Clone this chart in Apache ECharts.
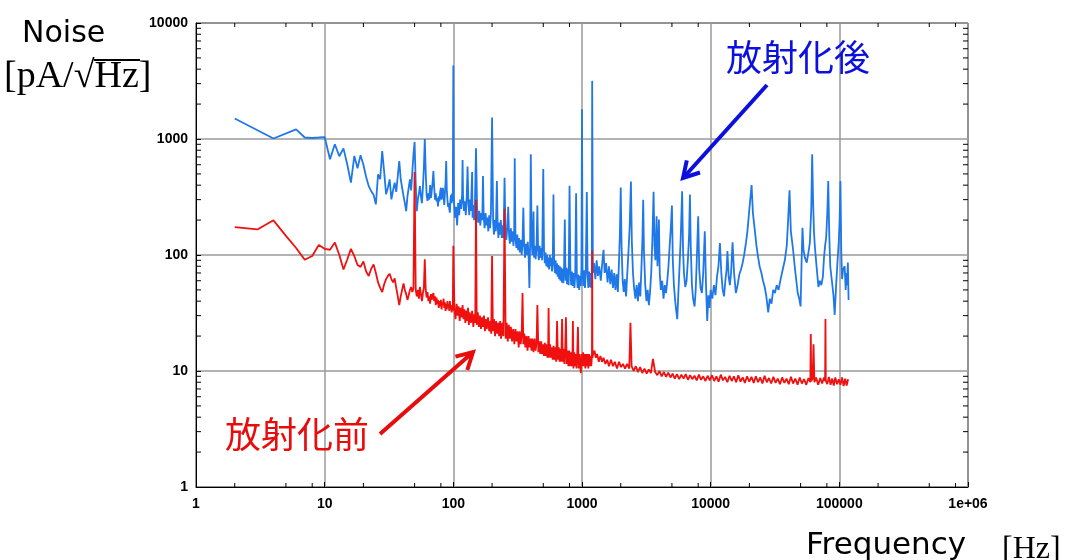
<!DOCTYPE html>
<html>
<head>
<meta charset="utf-8">
<script src="https://cdn.jsdelivr.net/npm/echarts@6/dist/echarts.min.js"></script>
<style>html,body{margin:0;padding:0;background:#fff;}#c{width:1069px;height:560px;}</style>
</head>
<body>
<div id="c"></div>
<script>
// Axis tick labels
const xTickLabels = ['1','10','100','1000','10000','100000','1e+06'];
const yTickLabels = ['1','10','100','1000','10000'];

// After activation (blue) noise spectrum: [frequency Hz, noise pA/sqrt(Hz)]
const afterActivation = [
[2,1500],[4,1010],[6,1210],[7,1030],[8,1020],[9,1030],[10,1040],[11,668],[12,900],[13,710],[14,830],[15,600],[16,421],[17,714],[18,560],[19,724],[20,600],[21,470],[22,393],[23,355],[24,330],[25,273],[26,496],[27,450],[28,788],[29,520],[30,334],[31,380],[32,449],[33,302],[34,360],[35,420],[36,350],[37,480],[38,645],[39,450],[40,380],[41,322],[42,280],[43,239],[44,320],[45,380],[46,449],[47,360],[48,520],[49,738],[50,944],[51,420],[52,239],[53,300],[54,340],[55,393],[56,320],[57,280],[58,380],[59,560],[60,1000],[61,520],[62,330],[63,293],[64,340],[65,300],[66,400],[67,310],[68,360],[69,420],[70,530],[71,380],[72,300],[73,340],[74,290],[75,310],[76,262],[77,320],[78,290],[79,350],[80,380],[81,300],[82,330],[83,380],[84,320],[85,270],[86,340],[87,420],[88,645],[89,360],[90,300],[91,260],[92,280],[93,250],[94,232],[95,300],[96,330],[97,280],[98,340],[99,290],
[100,4300],[101,300],[103,210],[105,260],[107,180],[109,280],[111,220],[113,300],[115,250],[117,330],[118,660],[119,320],[121,240],[123,290],[125,220],[127,310],[129,580],[131,280],[133,220],[135,300],[137,240],[140,520],[141,210],[143,270],[145,200],[147,260],[150,830],[153,250],[156,190],[159,240],[162,180],[165,230],[168,200],[170,480],[172,220],[175,170],[178,230],[181,180],[184,210],[187,160],[190,220],[193,170],[196,230],[200,1530],[204,190],[207,150],[210,200],[214,160],[218,434],[221,180],[224,140],[227,190],[231,150],[234,200],[238,140],[242,180],[246,140],[250,464],[254,170],[258,135],[263,175],[267,260],[271,150],[275,125],[280,170],[284,130],[289,160],[293,120],[297,150],[300,683],[304,140],[309,115],[314,150],[319,110],[324,140],[329,105],[334,135],[340,100],[345,130],[350,256],[355,120],[361,95],[367,125],[373,100],[379,130],[385,95],[390,52],[395,120],[400,738],[406,130],[412,100],[420,237],[424,95],[430,120],[436,92],[443,115],[450,267],[456,110],[462,90],[469,120],[476,95],[483,115],[490,90],[500,550],[507,110],[514,85],[521,105],[528,80],[535,100],[542,78],[549,95],[556,75],[563,100],[570,80],[577,95],[585,72],[593,90],[600,333],[608,85],[616,70],[624,90],[632,68],[640,85],[648,65],[656,82],[664,62],[672,80],[680,60],[689,78],[698,58],[707,76],[716,57],[725,75],[735,202],[745,60],[755,78],[765,56],[775,76],[787,55],[800,395],[812,74],[824,55],[836,72],[848,54],[860,70],[873,52],[886,68],[900,340],[912,66],[925,52],[938,68],[951,50],[965,66],[980,54],[990,78],[1000,1807],[1010,70],[1025,54],[1040,74],[1055,52],[1070,72],[1090,350],[1105,68],[1120,52],[1135,72],[1150,53],[1165,70],[1180,52],[1192,75],
[1200,3170],[1215,70],[1240,85],[1270,62],[1300,90],[1330,66],[1360,80],[1400,60],[1440,88],[1470,111],[1500,70],[1540,85],[1580,58],[1620,80],[1660,56],[1700,75],[1740,52],[1780,70],[1820,50],[1860,68],[1900,48],[1940,90],[1970,150],[2000,381],[2030,120],[2070,60],[2110,48],[2150,62],[2200,44],[2250,70],[2300,110],[2350,180],[2400,430],[2440,130],[2490,70],[2540,52],[2600,42],[2660,55],[2720,40],[2780,58],[2840,44],[2900,80],[2950,140],[2990,300],[3030,110],[3100,55],[3170,40],[3240,50],[3310,37],[3380,48],[3450,70],[3520,130],[3600,350],[3660,120],[3720,90],[3800,216],[3860,80],[3920,110],[3960,202],[4020,70],[4100,50],[4200,60],[4300,42],[4400,55],[4500,47],[4600,60],[4700,80],[4800,120],[4900,170],[5000,267],[5080,90],[5180,55],[5300,40],[5400,33],[5500,28],[5600,45],[5700,70],[5850,140],[6000,355],[6100,110],[6200,70],[6350,53],[6500,60],[6650,90],[6800,150],[6900,333],[7000,120],[7150,55],[7300,42],[7500,36],[7650,50],[7800,90],[8000,216],[8150,75],[8350,52],[8550,47],[8750,70],[9000,160],[9200,55],[9400,27],[9600,45],[9800,35],[10000,50],[10300,42],[10600,55],[10900,45],[11200,65],[11500,80],[11800,127],[12100,70],[12400,50],[12700,44],[13000,60],[13300,75],[13500,108],[13800,65],[14100,55],[14400,70],[14800,129],[15200,70],[15700,47],[16200,55],[16700,68],[17200,75],[17700,85],[18200,100],[18800,127],[19300,160],[19800,220],[20300,300],[20800,401],[21300,230],[22000,166],[22700,120],[23400,95],[24000,80],[24800,70],[25500,60],[26300,53],[27000,45],[28000,32],[28800,42],[29700,38],[30600,50],[31600,47],[32600,55],[33700,50],[35000,62],[36300,75],[37700,90],[39000,119],[40000,200],[41000,361],[42000,160],[43700,111],[45000,80],[46300,60],[47500,47],[48800,42],[50000,36],[50800,80],[51700,172],[52700,110],[54000,95],[55800,86],[57500,105],[59000,127],[60500,250],[61500,738],[62500,300],[63500,160],[64500,119],[66500,80],[68800,53],[70500,60],[72500,55],[74500,65],[76000,95],[77500,120],[79000,141],[80500,220],[82000,434],[83500,150],[85000,80],[87500,60],[90000,45],[92000,30.5],[94000,50],[96000,75],[97000,92],[99000,130],[100500,200],[102000,434],[103500,110],[105000,62],[107000,75],[110000,80],[112000,50],[114000,70],[115000,55],[116500,86],[118000,41]
];

// Before activation (red) noise spectrum: [frequency Hz, noise pA/sqrt(Hz)]
const beforeActivation = [
[2,174],[3,166],[4,199],[5,146],[6,115],[7,91],[8,98],[9,122],[10,113],[11,111],[12,128],[13,100],[14,75],[15,92],[16,113],[17,98],[18,82],[19,79],[20,88],[21,72],[22,66],[23,76],[24,83],[25,70],[26,58],[27,52],[28,48],[29,56],[30,62],[31,66],[32,69],[33,62],[34,58],[35,63],[36,52],[37,44],[38,37],[39,44],[40,50],[41,57],[42,50],[43,46],[44,41],[45,45],[46,50],[47,53],[48,48],[49,52],[50,520],[51,50],[52,44],[53,50],[54,42],[55,53],[56,46],[57,40],[58,47],[59,52],[60,92],[61,50],[62,43],[63,48],[64,40],[65,44],[66,38],[67,46],[68,41],[69,45],[70,47],[71,40],[72,44],[73,37],[74,43],[75,38],[76,41],[77,35],[78,40],[79,36],[80,41],[81,34],[82,39],[83,37],[84,42],[85,35],[86,39],[87,33],[88,38],[89,34],[90,40],[91,35],[92,38],[93,33],[94,40],[95,34],[96,37],[97,32],[98,36],[99,33],
[100,120],[102,34],[104,28],[106,38],[108,30],[110,36],[112,27],[114,35],[116,29],[118,37],[120,28],[122,34],[124,26],[126,33],[128,27],[130,35],[132,25],[134,32],[137,26],[140,33],[143,24],[146,31],[148,26],[150,300],[152,25],[155,32],[158,24],[161,30],[164,23],[167,29],[170,24],[173,30],[176,22],[179,28],[182,23],[186,29],[190,22],[194,27],[197,21],[200,98],[203,22],[207,28],[211,20],[215,27],[219,21],[223,26],[227,20],[231,27],[235,19],[240,26],[245,20],[250,250],[255,19],[260,26],[265,18],[270,25],[275,19],[280,24],[286,18],[292,23],[298,17],[304,23],[310,18],[316,22],[322,16],[328,22],[334,17],[340,21],[345,47],[350,17],[356,21],[363,16],[370,20],[377,15],[384,20],[391,16],[398,19],[405,15],[412,19],[420,14.5],[428,19],[436,15],[444,18],[450,37],[458,14.5],[466,18],[474,14],[482,18],[490,14],[498,17],[506,13.5],[514,17.5],[522,13.5],[530,17],[538,13],[546,16.5],[550,35],[556,13],[565,17],[574,13],[583,16],[592,12.5],[601,16.5],[610,12.5],[620,16],[630,12],[640,27],[650,12.5],[660,16],[670,12],[680,15.5],[690,12],[700,28],[710,12],[720,15.5],[730,11.5],[740,15],[750,29],[760,11.5],[772,15],[784,11],[796,15],[808,11],[820,14.5],[832,11],[844,15],[850,27],[858,10.5],[870,14.5],[882,11],[894,14],[906,10.5],[918,14],[930,24],[942,10.5],[955,14],[968,11],[980,9.6],[993,14],[1006,11],[1020,14.5],[1034,11],[1048,14],[1062,10.5],[1076,14],[1090,11],[1105,14],[1120,10.5],[1135,14],[1150,11],[1165,13.5],[1180,11],[1195,13.5],[1200,110],[1205,13],
[1220,14],[1250,15],[1280,13],[1310,14],[1350,12],[1390,13.5],[1430,12],[1470,13],[1520,11.5],[1570,12.5],[1620,11],[1680,12.5],[1740,11],[1800,12],[1870,10.5],[1940,12],[2010,10.8],[2080,11.5],[2160,10.5],[2240,11.5],[2330,10.5],[2380,26],[2430,11],[2520,10],[2620,11],[2720,9.8],[2830,10.8],[2940,9.6],[3060,10.5],[3180,9.5],[3300,10.3],[3430,9.6],[3560,12.7],[3700,9.8],[3850,9.2],[4000,10],[4160,9],[4330,9.8],[4500,8.9],[4680,9.7],[4870,8.8],[5060,9.5],[5260,8.6],[5470,9.4],[5690,8.5],[5920,9.3],[6160,8.6],[6400,9.4],[6660,8.4],[6920,9.2],[7200,8.5],[7490,9.1],[7790,8.3],[8100,9.3],[8420,8.4],[8760,9],[9110,8.2],[9470,9.1],[9850,8.3],[10240,9.2],[10650,8.2],[11080,9],[11520,8.1],[11980,9.3],[12460,8.3],[12960,8.9],[13480,8],[14020,9.1],[14580,8.2],[15160,9],[15770,8],[16400,9.2],[17060,8.1],[17740,8.8],[18450,7.9],[19190,9],[19960,8.1],[20760,8.9],[21590,7.9],[22450,9],[23350,8],[24280,8.8],[25250,7.8],[26260,9.1],[27310,8],[28400,8.7],[29540,7.8],[30720,8.9],[31950,7.9],[33230,8.6],[34560,7.7],[35940,8.8],[37380,7.9],[38880,8.6],[40430,7.7],[42050,8.9],[43730,7.8],[45480,8.6],[47300,7.6],[49190,8.8],[51160,7.8],[53200,8.5],[55330,7.6],[57540,8.7],[59500,8],[60000,20.8],[60500,8.2],[62000,8.6],[63000,17],[64000,8],[66000,8.8],[68500,7.6],[71000,8.7],[73500,7.8],[76000,8.8],[77500,8.2],[78000,28],[78500,8.3],[80500,7.7],[83000,8.9],[85500,7.6],[88000,8.6],[90500,7.5],[93000,8.8],[96000,7.7],[99000,8.5],[102000,7.6],[105000,8.8],[108000,7.4],[111000,8.6],[114000,7.5],[117000,8.5]
];

// Minor tick positions (axis decoration)
const xMinorMultipliers = [2,5,8];
const yMinorMultipliers = [2,3,4,5,6,7,8,9];

const X_MIN = 1, X_MAX = 1e6, Y_MIN = 1, Y_MAX = 10000;
const xMinor = [], yMinor = [];
for (let d = 1; d < X_MAX; d *= 10) xMinorMultipliers.forEach(m => xMinor.push([m*d, Y_MIN]));
for (let d = 1; d < Y_MAX; d *= 10) yMinorMultipliers.forEach(m => yMinor.push([X_MIN, m*d]));

const chart = echarts.init(document.getElementById('c'), null, {renderer:'canvas'});
const labelFont = {fontFamily:'Liberation Sans', fontSize:14, fontWeight:'bold', color:'#000'};

chart.setOption({
  animation:false,
  backgroundColor:'#fff',
  grid:{left:196, right:101, top:23, bottom:73, show:true, borderColor:'#000', borderWidth:1, backgroundColor:'transparent'},
  xAxis:{
    type:'log', logBase:10, min:X_MIN, max:X_MAX, splitNumber:6,
    axisLine:{show:true, lineStyle:{color:'#000', width:1}},
    axisTick:{show:true, inside:true, length:5, lineStyle:{color:'#000'}},
    splitLine:{show:true, lineStyle:{color:'#9a9a9a', width:1.5}},
    axisLabel:Object.assign({margin:10, formatter:v => xTickLabels[Math.round(Math.log10(v))]}, labelFont)
  },
  yAxis:{
    type:'log', logBase:10, min:Y_MIN, max:Y_MAX, splitNumber:4,
    axisLine:{show:true, lineStyle:{color:'#000', width:1}},
    axisTick:{show:true, inside:true, length:5, lineStyle:{color:'#000'}},
    splitLine:{show:true, lineStyle:{color:'#9a9a9a', width:1.5}},
    axisLabel:Object.assign({margin:8, formatter:v => yTickLabels[Math.round(Math.log10(v))]}, labelFont)
  },
  series:[
    {type:'line', name:'放射化後', data:afterActivation, showSymbol:false, symbol:'none',
     lineStyle:{color:'#1f78e8', width:1.8}, z:3},
    {type:'line', name:'放射化前', data:beforeActivation, showSymbol:false, symbol:'none',
     lineStyle:{color:'#f01010', width:1.8}, z:4},
    {type:'custom', data:xMinor, silent:true, z:5,
     renderItem:(params, api) => {
       const x = api.value(0);
       const b = api.coord([x, Y_MIN]), t = api.coord([x, Y_MAX]);
       return {type:'group', children:[
         {type:'line', shape:{x1:b[0], y1:b[1], x2:b[0], y2:b[1]-4}, style:{stroke:'#000', lineWidth:1}},
         {type:'line', shape:{x1:t[0], y1:t[1], x2:t[0], y2:t[1]+4}, style:{stroke:'#000', lineWidth:1}}
       ]};
     }},
    {type:'custom', data:yMinor, silent:true, z:5,
     renderItem:(params, api) => {
       const y = api.value(1);
       const l = api.coord([X_MIN, y]), r = api.coord([X_MAX, y]);
       return {type:'group', children:[
         {type:'line', shape:{x1:l[0], y1:l[1], x2:l[0]+5, y2:l[1]}, style:{stroke:'#000', lineWidth:1}},
         {type:'line', shape:{x1:r[0], y1:r[1], x2:r[0]-5, y2:r[1]}, style:{stroke:'#000', lineWidth:1}}
       ]};
     }}
  ],
  graphic:[
    {type:'text', left:22, top:19, style:{text:'Noise', font:'30px "DejaVu Sans"', fill:'#000'}},
    {type:'text', left:4, top:58, style:{text:'[pA/√Hz]', font:'38px "Liberation Serif"', fill:'#000'}},
    {type:'line', shape:{x1:94, y1:60, x2:140, y2:60}, style:{stroke:'#000', lineWidth:2}},
    {type:'text', left:806, top:530, style:{text:'Frequency', font:'31px "DejaVu Sans"', fill:'#000'}},
    {type:'text', left:1002, top:534, style:{text:'[Hz]', font:'32px "Liberation Serif"', fill:'#000'}},
    {type:'text', left:726, top:39, style:{text:'放射化後', font:'36px "Noto Sans CJK JP"', fill:'#0b10dc'}, z:10},
    {type:'text', left:225, top:416, style:{text:'放射化前', font:'36px "Noto Sans CJK JP"', fill:'#e80c0c'}, z:10},
    {type:'line', shape:{x1:767, y1:85, x2:684, y2:177}, style:{stroke:'#0b10dc', lineWidth:4}, z:10},
    {type:'polyline', shape:{points:[[700,172.5],[683,178],[686.8,160.4]]}, style:{stroke:'#0b10dc', lineWidth:4, fill:null}, z:10},
    {type:'line', shape:{x1:380, y1:434, x2:472, y2:353}, style:{stroke:'#e80c0c', lineWidth:4}, z:10},
    {type:'polyline', shape:{points:[[455.4,356.6],[473,352],[467.3,370]]}, style:{stroke:'#e80c0c', lineWidth:4, fill:null}, z:10}
  ]
});
</script>
</body>
</html>
